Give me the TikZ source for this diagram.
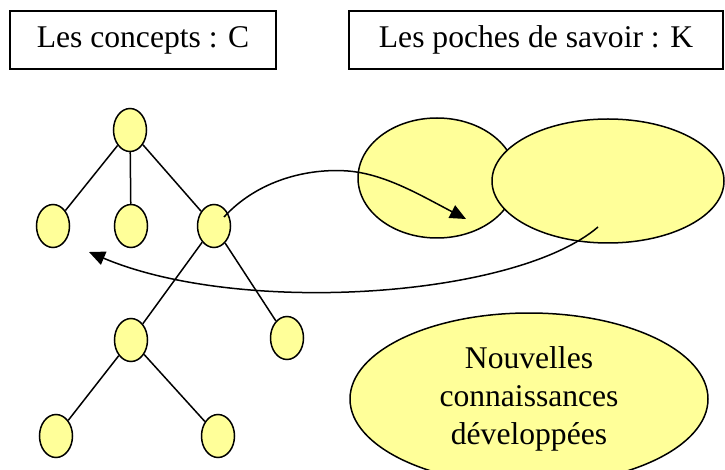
\documentclass[tikz,border=0pt]{standalone}
\usepackage{fontspec}
\setmainfont{Liberation Serif}
\usetikzlibrary{shapes.geometric,arrows.meta}
\definecolor{pale}{RGB}{255,255,153}
\begin{document}
\begin{tikzpicture}[x=1pt,y=-1pt,
  txt/.style={font=\fontsize{31.6}{38}\selectfont},
  titlebox/.style={draw,line width=1.5pt,inner sep=0pt,txt},
  cnode/.style={ellipse,draw,fill=pale,line width=1.5pt,inner sep=0pt,
    minimum width=33pt,minimum height=43pt},
  pocket/.style={ellipse,draw,fill=pale,line width=1.5pt,inner sep=0pt},
  link/.style={line width=1.5pt},
  flow/.style={line width=1.5pt,-{Triangle[length=16pt,width=14pt]}}]
\useasboundingbox (0,0) rectangle (725,470);

% title boxes
\node[titlebox,minimum width=266pt,minimum height=58pt] (bc) at (143,40) {Les concepts : C};
\node[titlebox,minimum width=374pt,minimum height=58pt] (bk) at (536,40) {Les poches de savoir : K};

% concept tree
\node[cnode] (r)  at (130,130) {};
\node[cnode] (c1) at (53,226) {};
\node[cnode] (c2) at (131,226) {};
\node[cnode] (c3) at (214,226) {};
\node[cnode] (d1) at (131,340) {};
\node[cnode] (d2) at (287,338) {};
\node[cnode] (e1) at (56,436) {};
\node[cnode] (e2) at (218,436) {};
\draw[link] (r) -- (c1);
\draw[link] (r) -- (c2);
\draw[link] (r) -- (c3);
\draw[link] (c3) -- (d1);
\draw[link] (c3) -- (d2);
\draw[link] (d1) -- (e1);
\draw[link] (d1) -- (e2);

% knowledge pockets
\node[pocket,minimum width=158pt,minimum height=120pt] (k1) at (437,178) {};
\node[pocket,minimum width=232pt,minimum height=124pt] (k2) at (608,181) {};
\node[pocket,txt,align=center,minimum width=358pt,minimum height=172pt] (nk) at (529,399)
  {Nouvelles\\connaissances\\développées};

% exchanges between C and K
\coordinate (s1) at (224,217);
\coordinate (t1) at (466,219);
\coordinate (s2) at (598,227);
\coordinate (t2) at (89,252);
\draw[flow] (s1) .. controls (258,180) and (308,168) .. (348,171)
  .. controls (385,174) and (420,195) .. (t1);
\draw[flow] (s2) .. controls (515,298) and (240,316) .. (t2);
\end{tikzpicture}
\end{document}
